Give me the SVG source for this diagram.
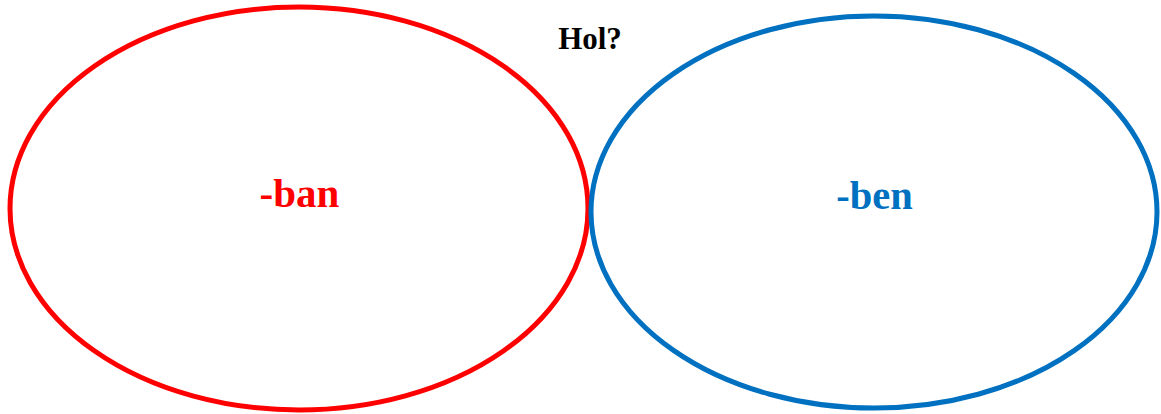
<svg xmlns="http://www.w3.org/2000/svg" width="1161" height="414" viewBox="0 0 1161 414">
<style>
.lbl{font-family:"Liberation Serif","Times New Roman",serif;font-weight:bold;text-anchor:middle}
.ring{fill:none;stroke-width:5}
</style>
<rect width="1161" height="414" fill="#fff"/>
<g id="node-ban">
<ellipse class="ring" cx="299" cy="208.5" rx="289" ry="201.5" stroke="#FF0000"/>
<text class="lbl" x="299.5" y="207" font-size="41" fill="#FF0000">-ban</text>
</g>
<g id="node-ben">
<ellipse class="ring" cx="874" cy="212" rx="283" ry="196" stroke="#0070C0"/>
<text class="lbl" x="874.5" y="209" font-size="40.5" fill="#0070C0">-ben</text>
</g>
<g id="node-hol">
<text class="lbl" x="590" y="49" font-size="31" fill="#000">Hol?</text>
</g>
<g id="connectors"/>
</svg>
